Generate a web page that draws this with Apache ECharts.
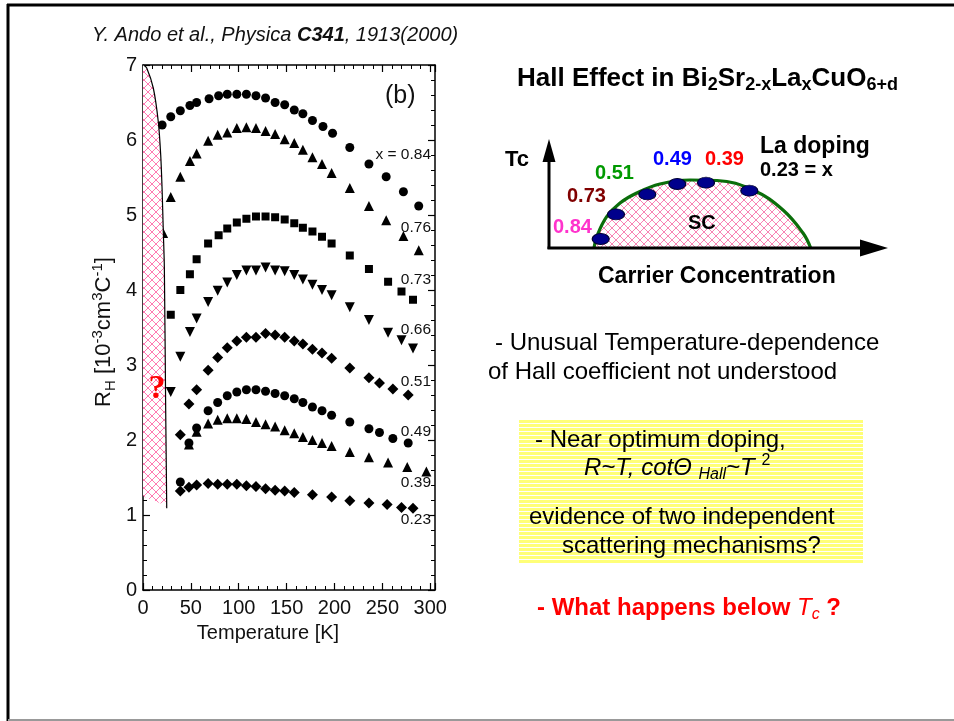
<!DOCTYPE html>
<html><head><meta charset="utf-8">
<script src="https://cdn.jsdelivr.net/npm/echarts@6/dist/echarts.min.js"></script>
<style>html,body{margin:0;padding:0;background:#fff}#c{width:954px;height:721px}</style>
</head><body><div id="c"></div>
<script>
// ---------------- data ----------------
const T084 = [20,29,39,49,56,69,79,88,98,108,118,128,138,148,158,167,177,188,198,216,236,254,272,288];
const R084 = [6.20,6.31,6.39,6.46,6.50,6.55,6.59,6.61,6.61,6.61,6.59,6.56,6.50,6.47,6.40,6.35,6.26,6.18,6.09,5.90,5.68,5.51,5.31,5.12];
const T076 = [21,29,39,49,56,68,78,88,98,108,118,128,138,148,158,167,177,187,197,216,236,254,272,288];
const R076 = [4.76,5.24,5.51,5.72,5.82,5.99,6.07,6.10,6.16,6.17,6.16,6.12,6.08,6.01,5.96,5.87,5.77,5.68,5.56,5.36,5.12,4.93,4.72,4.53];
const T073 = [29,39,49,56,68,79,88,98,108,118,128,138,148,158,167,177,187,197,216,236,256,270,282];
const R073 = [3.67,4.00,4.21,4.41,4.62,4.73,4.82,4.90,4.95,4.98,4.98,4.97,4.94,4.89,4.83,4.78,4.71,4.62,4.46,4.28,4.11,3.98,3.87];
const T066 = [29,39,49,56,68,78,88,98,108,118,128,138,148,158,167,177,187,197,216,236,256,270,282];
const R066 = [2.64,3.11,3.44,3.62,3.84,3.99,4.10,4.20,4.26,4.26,4.30,4.26,4.25,4.20,4.14,4.07,4.00,3.93,3.77,3.60,3.43,3.33,3.22];
const T051 = [39,48,56,68,78,88,98,108,118,128,138,148,158,167,177,187,197,216,236,247,261,277];
const R051 = [2.07,2.48,2.67,2.93,3.10,3.23,3.32,3.37,3.37,3.42,3.40,3.37,3.32,3.28,3.21,3.16,3.09,2.96,2.83,2.76,2.68,2.60];
const T049 = [39,48,56,68,78,88,98,108,118,128,138,148,158,167,177,187,197,216,236,247,261,277];
const R049 = [1.44,1.96,2.16,2.39,2.50,2.59,2.64,2.67,2.67,2.65,2.62,2.59,2.55,2.50,2.44,2.39,2.33,2.24,2.15,2.10,2.02,1.96];
const T039 = [48,56,68,78,88,98,108,118,128,138,148,158,167,177,187,197,216,236,256,276,296];
const R039 = [1.94,2.11,2.22,2.27,2.29,2.29,2.28,2.24,2.21,2.18,2.13,2.09,2.04,2.00,1.96,1.92,1.84,1.77,1.70,1.64,1.58];
const T023 = [39,48,56,68,78,88,98,108,118,128,138,148,158,177,197,216,236,255,270,282];
const R023 = [1.32,1.37,1.40,1.42,1.41,1.41,1.41,1.39,1.38,1.35,1.33,1.32,1.30,1.27,1.24,1.19,1.16,1.14,1.10,1.09];
const seriesLabels = ['x = 0.84','0.76','0.73','0.66','0.51','0.49','0.39','0.23'];

// hatched "below Tc" region boundary (T, RH)
const edgeT = [0.5,3.9,10.8,16.0,18.5,19.9,21.2,22.3,23.7,24.8];
const edgeR = [7.0,6.96,6.69,6.24,5.80,5.36,4.78,4.30,2.40,1.09];
const bottomT = [23,2,0,0];
const bottomR = [1.13,1.24,1.26,7];

// schematic phase diagram (arbitrary units)
const domeU = [46,49,58.7,72,88.7,112,142,169,205,235,255,262.7];
const domeV = [0,12,31.3,45,55,64,68,67.5,58,38,15,0];
const dotU = [52.7,68,99.3,129.3,158,201.3];
const dotV = [9,33.7,53.7,64,65.3,57.3];
const dotLabels = ['0.84','0.73','0.51','0.49','0.39'];

// ---------------- helpers ----------------
const zip = (a,b) => a.map((v,i)=>[v,b[i]]);
function hatch(size, color){
  const c=document.createElement('canvas'); c.width=c.height=size;
  const g=c.getContext('2d'); g.fillStyle='#fff'; g.fillRect(0,0,size,size);
  g.strokeStyle=color; g.lineWidth=1; g.beginPath();
  g.moveTo(0,0); g.lineTo(size,size); g.moveTo(size,0); g.lineTo(0,size); g.stroke();
  return c;
}
function stripes(){
  const c=document.createElement('canvas'); c.width=4; c.height=4;
  const g=c.getContext('2d'); g.fillStyle='#ffff78'; g.fillRect(0,0,4,4);
  g.fillStyle='#ffffff'; g.fillRect(0,3,4,1); return c;
}
const hatchMain = hatch(8,'#ff7ab2');
const hatchDome = hatch(8,'#f884b4');
const FF = "'Liberation Sans', Arial, sans-serif";

const chart = echarts.init(document.getElementById('c'));

const defs = [
  {T:T084,R:R084,symbol:'circle',size:9},
  {T:T076,R:R076,symbol:'triangle',size:10},
  {T:T073,R:R073,symbol:'rect',size:8},
  {T:T066,R:R066,symbol:'triangle',size:10,rot:180},
  {T:T051,R:R051,symbol:'diamond',size:11},
  {T:T049,R:R049,symbol:'circle',size:9},
  {T:T039,R:R039,symbol:'triangle',size:10},
  {T:T023,R:R023,symbol:'diamond',size:11}
];
const series = defs.map(d=>({
  type:'scatter', xAxisIndex:0, yAxisIndex:0, data:zip(d.T,d.R),
  symbol:d.symbol, symbolSize:d.size, symbolRotate:d.rot||0,
  itemStyle:{color:'#000', opacity:1}, z:2, silent:true
}));
const edge = zip(edgeT, edgeR);
const region = edge.concat(zip(bottomT,bottomR));
series.push({
  type:'custom', xAxisIndex:0, yAxisIndex:0, data:[[0,0]], z:3, silent:true,
  renderItem:function(params, api){
    const pts = region.map(p=>api.coord(p));
    const line = edge.map(p=>api.coord(p));
    return {type:'group', children:[
      {type:'polygon', shape:{points:pts}, style:{fill:{image:hatchMain, repeat:'repeat'}, stroke:null}},
      {type:'polyline', shape:{points:line, smooth:0.3}, style:{stroke:'#000', lineWidth:1.2, fill:null}}
    ]};
  }
});
series.push({
  type:'line', xAxisIndex:2, yAxisIndex:2, data:zip(domeU,domeV), smooth:0.4, symbol:'none',
  lineStyle:{color:'#0b6e0b', width:3.2}, areaStyle:{color:{image:hatchDome, repeat:'repeat'}, opacity:1}, z:2, silent:true
});
series.push({
  type:'scatter', xAxisIndex:2, yAxisIndex:2, data:zip(dotU,dotV), symbol:'circle', symbolSize:[17,11],
  itemStyle:{color:'#00008c', borderColor:'#000033', borderWidth:1, opacity:1}, z:4, silent:true
});

const axCommon = {
  type:'value', axisLine:{show:true,onZero:false,lineStyle:{color:'#000',width:1.5}},
  axisTick:{show:true,inside:true,length:7,lineStyle:{color:'#000',width:1.2}},
  minorTick:{show:true,splitNumber:5,length:4,lineStyle:{color:'#000',width:1}},
  splitLine:{show:false}, minorSplitLine:{show:false}
};
const xAxes = [
  Object.assign({}, axCommon, {gridIndex:0, position:'bottom', min:0, max:305, interval:50,
    axisLabel:{fontSize:20, color:'#111', fontFamily:FF, margin:8, showMaxLabel:false}}),
  Object.assign({}, axCommon, {gridIndex:0, position:'top', min:0, max:305, interval:50, axisLabel:{show:false}}),
  {gridIndex:1, type:'value', min:0, max:340, show:false}
];
const yAxes = [
  Object.assign({}, axCommon, {gridIndex:0, position:'left', min:0, max:7, interval:1,
    axisLabel:{fontSize:20, color:'#111', fontFamily:FF, margin:6}}),
  Object.assign({}, axCommon, {gridIndex:0, position:'right', min:0, max:7, interval:1, axisLabel:{show:false}}),
  {gridIndex:1, type:'value', min:0, max:140, show:false}
];

function T(x,y,text,o){
  o=o||{};
  return {type:'text', x:x, y:y, z:o.z||20, rotation:o.rot||0, silent:true,
    style:{text:text, fontSize:o.size||24, fontFamily:o.family||FF, fontWeight:o.weight||'normal',
      fontStyle:o.style||'normal', fill:o.color||'#000', align:o.align||'left', verticalAlign:'middle', rich:o.rich}};
}
const G = [];
// slide frame
G.push({type:'line', shape:{x1:8,y1:4,x2:8,y2:721}, style:{stroke:'#000',lineWidth:3}, z:30});
G.push({type:'line', shape:{x1:7,y1:5,x2:954,y2:5}, style:{stroke:'#000',lineWidth:3}, z:30});
G.push({type:'line', shape:{x1:8,y1:720,x2:954,y2:720}, style:{stroke:'#999',lineWidth:2}, z:30});
// citation
G.push(T(92,35,'{i|Y. Ando et al., Physica }{b|C341}{i|, 1913(2000)}',{rich:{
  i:{fontSize:20,fontStyle:'italic',fontFamily:FF,fill:'#111'},
  b:{fontSize:20,fontStyle:'italic',fontWeight:'bold',fontFamily:FF,fill:'#111'}}}));
// axis titles
G.push(T(268,633,'Temperature [K]',{size:20,align:'center',color:'#111'}));
G.push(T(104,332,'{m|R}{sub|H}{m| [10}{sup|-3}{m|cm}{sup|3}{m|C}{sup|-1}{m|]}',{rot:Math.PI/2, align:'center', rich:{
  m:{fontSize:22,fontFamily:FF,fill:'#111',lineHeight:28},
  sub:{fontSize:15,fontFamily:FF,fill:'#111',lineHeight:12,verticalAlign:'bottom'},
  sup:{fontSize:15,fontFamily:FF,fill:'#111',lineHeight:16,verticalAlign:'top'}}}));
// (b)
G.push(T(385,96,'(b)',{size:25,color:'#111'}));
// series labels
const labY = [155,228,280,330,382,432,483,520];
seriesLabels.forEach((s,i)=>G.push(T(431,labY[i],s,{size:15.5,align:'right',color:'#111'})));
// question mark
G.push(T(157,389,'?',{size:34,family:"'Liberation Serif', 'Times New Roman', serif",weight:'bold',color:'#ff0000',align:'center'}));

// right side title
G.push(T(517,79,'{m|Hall Effect in Bi}{s|2}{m|Sr}{s|2-x}{m|La}{s|x}{m|CuO}{s|6+d}',{rich:{
  m:{fontSize:26,fontWeight:'bold',fontFamily:FF,fill:'#000',lineHeight:30},
  s:{fontSize:18,fontWeight:'bold',fontFamily:FF,fill:'#000',lineHeight:14,verticalAlign:'bottom'}}}));
// diagram axes arrows
G.push({type:'line', shape:{x1:549,y1:249,x2:549,y2:158}, style:{stroke:'#000',lineWidth:3}, z:10});
G.push({type:'polygon', shape:{points:[[549,139],[542.5,162],[555.5,162]]}, style:{fill:'#000'}, z:10});
G.push({type:'line', shape:{x1:547.5,y1:248,x2:864,y2:248}, style:{stroke:'#000',lineWidth:3}, z:10});
G.push({type:'polygon', shape:{points:[[888,248],[860,239.5],[860,256.5]]}, style:{fill:'#000'}, z:10});
// diagram labels
G.push(T(505,160,'Tc',{size:22,weight:'bold'}));
G.push(T(760,147,'La doping',{size:23,weight:'bold'}));
G.push(T(760,170,'0.23 = x',{size:20,weight:'bold'}));
const dlx=[553,567,595,653,705], dly=[227,196,173,159,159];
const dlc=['#ff33cc','#800000','#009900','#0000ff','#ff0000'];
dotLabels.forEach((s,i)=>G.push(T(dlx[i],dly[i],s,{size:20,weight:'bold',color:dlc[i]})));
G.push(T(688,223,'SC',{size:20,weight:'bold'}));
G.push(T(598,277,'Carrier Concentration',{size:23,weight:'bold'}));
// bullet text
G.push(T(495,343,'- Unusual Temperature-dependence',{size:24}));
G.push(T(488,372,'of Hall coefficient not understood',{size:24}));
G.push({type:'rect', shape:{x:519,y:420,width:344,height:143}, style:{fill:{image:stripes(),repeat:'repeat'}}, z:5, silent:true});
G.push(T(535,440,'- Near optimum doping,',{size:24}));
G.push(T(584,468,'{i|R~T, cot\u0398 }{s|Hall}{i|~T }{p|2}',{rich:{
  i:{fontSize:24,fontStyle:'italic',fontFamily:FF,fill:'#000',lineHeight:30},
  s:{fontSize:16,fontStyle:'italic',fontFamily:FF,fill:'#000',lineHeight:12,verticalAlign:'bottom'},
  p:{fontSize:16,fontFamily:FF,fill:'#000',lineHeight:18,verticalAlign:'top'}}}));
G.push(T(529,517,'evidence of two independent',{size:24}));
G.push(T(562,546,'scattering mechanisms?',{size:24}));
G.push(T(537,608,'{b|- What happens below }{t|T}{c|c}{b| ?}',{rich:{
  b:{fontSize:24,fontWeight:'bold',fontFamily:FF,fill:'#ff0000',lineHeight:30},
  t:{fontSize:24,fontStyle:'italic',fontFamily:FF,fill:'#ff0000',lineHeight:30},
  c:{fontSize:16,fontStyle:'italic',fontFamily:FF,fill:'#ff0000',lineHeight:12,verticalAlign:'bottom'}}}));

chart.setOption({
  animation:false,
  backgroundColor:'#fff',
  grid:[{left:143,top:65,width:292,height:525},{left:548,top:108,width:340,height:140}],
  xAxis:xAxes, yAxis:yAxes, series:series, graphic:G
});
</script></body></html>
